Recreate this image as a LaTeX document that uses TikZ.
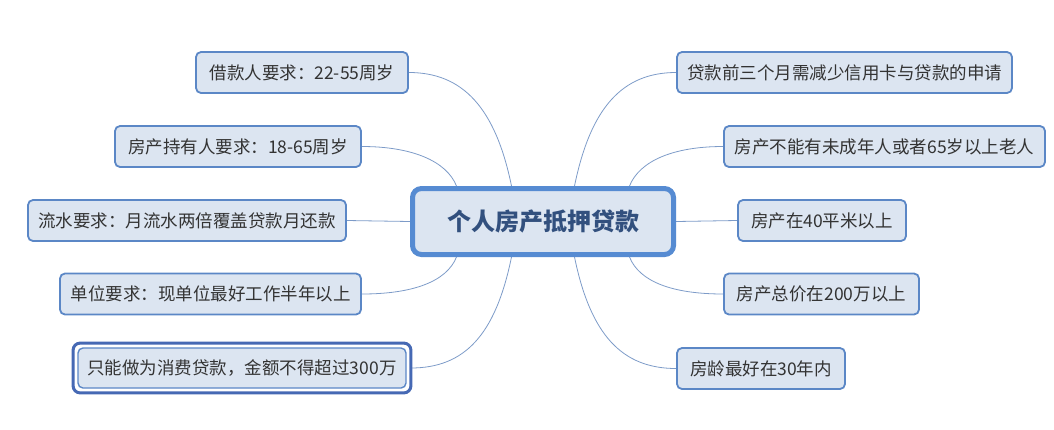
\documentclass[tikz,border=0pt]{standalone}
\usepackage{fontspec}
\setmainfont{Noto Sans CJK SC}
\usetikzlibrary{backgrounds}
\definecolor{boxfill}{RGB}{220,229,241}
\definecolor{boxline}{RGB}{91,135,198}
\definecolor{mainline}{RGB}{86,139,210}
\definecolor{maintext}{RGB}{50,80,126}
\definecolor{txt}{RGB}{51,51,51}
\definecolor{conn}{RGB}{125,155,200}
\definecolor{outerline}{RGB}{70,105,180}
\tikzset{
  leaf/.style={draw=boxline, fill=boxfill, line width=1.8pt, rounded corners=5pt,
    minimum height=41pt, inner sep=0pt, text=txt,
    font=\fontsize{17.5}{20}\selectfont},
  root/.style={draw=mainline, fill=boxfill, line width=5pt, rounded corners=9pt,
    minimum width=261pt, minimum height=66pt, inner sep=0pt, text=maintext,
    font=\fontsize{24}{28}\selectfont\bfseries},
  link/.style={draw=conn, line width=0.8pt},
}
\begin{document}
\begin{tikzpicture}[x=1pt,y=-1pt]
\useasboundingbox (0,0) rectangle (1054,429);
% central node
\node[root] (C) at (543,221.5) {个人房产抵押贷款};
% left nodes
\node[leaf, minimum width=212pt] (L1) at (302,72.5) {借款人要求：22-55周岁};
\node[leaf, minimum width=246pt] (L2) at (238,146.5) {房产持有人要求：18-65周岁};
\node[leaf, minimum width=318pt] (L3) at (187,220.5) {流水要求：月流水两倍覆盖贷款月还款};
\node[leaf, minimum width=301pt] (L4) at (210.5,294) {单位要求：现单位最好工作半年以上};
\node[leaf, minimum width=328pt, minimum height=40pt, line width=1.4pt] (L5) at (242,368) {只能做为消费贷款，金额不得超过300万};
\draw[draw=outerline, line width=3pt, rounded corners=7pt]
  ([shift={(-4.2,-4.2)}]L5.north west) rectangle ([shift={(4.2,4.2)}]L5.south east);
% right nodes
\node[leaf, minimum width=335pt] (R1) at (844.5,72.5) {贷款前三个月需减少信用卡与贷款的申请};
\node[leaf, minimum width=321pt] (R2) at (884.5,146.5) {房产不能有未成年人或者65岁以上老人};
\node[leaf, minimum width=168pt] (R3) at (822,220.5) {房产在40平米以上};
\node[leaf, minimum width=195pt] (R4) at (821.5,294) {房产总价在200万以上};
\node[leaf, minimum width=168pt] (R5) at (761,368.5) {房龄最好在30年内};
% connector start points on the central node
\coordinate (tL1) at ([xshift=-31.5pt]C.north);
\coordinate (tL2) at ([xshift=-86.5pt]C.north);
\coordinate (tR1) at ([xshift=31.5pt]C.north);
\coordinate (tR2) at ([xshift=86.5pt]C.north);
\coordinate (bL1) at ([xshift=-31.5pt]C.south);
\coordinate (bL2) at ([xshift=-86.5pt]C.south);
\coordinate (bR1) at ([xshift=31.5pt]C.south);
\coordinate (bR2) at ([xshift=86.5pt]C.south);
\begin{scope}[on background layer]
\draw[link] (tL1) .. controls +(-16,-78) and +(54,0) .. (L1.east);
\draw[link] (tL2) .. controls +(-10,-25) and +(50,0) .. (L2.east);
\draw[link] (C.west) -- (L3.east);
\draw[link] (bL2) .. controls +(-10,25) and +(50,0) .. (L4.east);
\draw[link] (bL1) .. controls +(-16,78) and +(54,0) .. ([xshift=4pt]L5.east);
\draw[link] (tR1) .. controls +(16,-78) and +(-54,0) .. (R1.west);
\draw[link] (tR2) .. controls +(10,-25) and +(-50,0) .. (R2.west);
\draw[link] (C.east) -- (R3.west);
\draw[link] (bR2) .. controls +(10,25) and +(-50,0) .. (R4.west);
\draw[link] (bR1) .. controls +(16,78) and +(-54,0) .. (R5.west);
\end{scope}
\end{tikzpicture}
\end{document}
